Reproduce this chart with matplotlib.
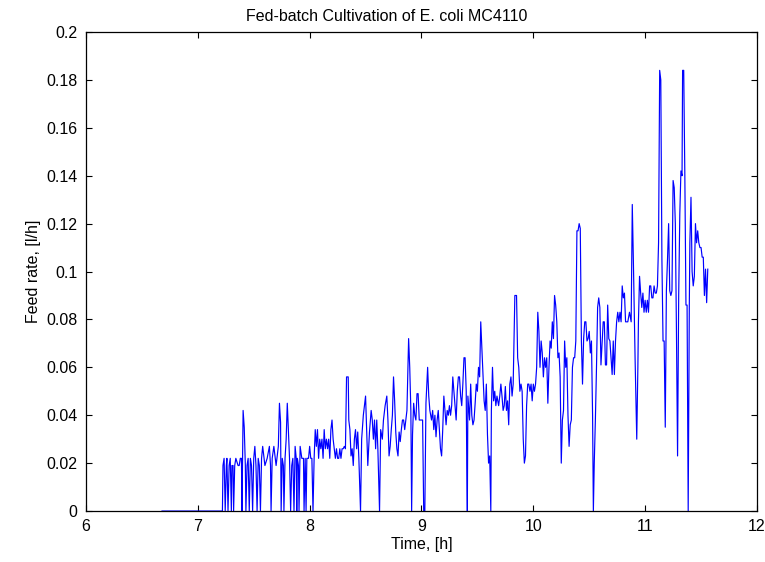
import numpy as np
import matplotlib
matplotlib.use("Agg")
import matplotlib.pyplot as plt

plt.rcParams['font.family'] = ['Liberation Sans', 'DejaVu Sans']

# time [h] and feed rate [l/h]
time_h = [
    6.68, 7.22,
    7.225, 7.235, 7.245, 7.255, 7.26, 7.27, 7.28, 7.29, 7.30, 7.305,
    7.315, 7.32, 7.33, 7.34, 7.36, 7.37, 7.38, 7.39, 7.395, 7.405,
    7.415, 7.425, 7.43, 7.44, 7.45, 7.46, 7.47, 7.48, 7.49, 7.50,
    7.51, 7.52, 7.53, 7.54, 7.55, 7.56, 7.57, 7.58, 7.60, 7.62,
    7.64, 7.65, 7.655, 7.665, 7.68, 7.70, 7.72, 7.73, 7.74, 7.745,
    7.755, 7.765, 7.77, 7.78, 7.79, 7.80, 7.81, 7.82, 7.83, 7.84,
    7.85, 7.86, 7.87, 7.88, 7.885, 7.89, 7.90, 7.905, 7.915, 7.93,
    7.945, 7.95, 7.96, 7.968, 7.975, 7.99, 8.00, 8.01, 8.02, 8.03,
    8.04, 8.05,
    8.06, 8.07, 8.08, 8.09, 8.10, 8.11, 8.12, 8.13, 8.14, 8.15,
    8.16, 8.17, 8.18, 8.19, 8.20, 8.21, 8.22, 8.23, 8.24, 8.25,
    8.26, 8.27, 8.28, 8.29, 8.30, 8.31, 8.32, 8.33, 8.345, 8.35,
    8.36, 8.37, 8.38, 8.39, 8.40, 8.41, 8.42, 8.43, 8.44, 8.455,
    8.465, 8.48, 8.50, 8.51, 8.52, 8.535, 8.55, 8.56, 8.57, 8.58,
    8.59, 8.60, 8.61, 8.625, 8.635, 8.65, 8.66, 8.675, 8.69,
    8.70, 8.71, 8.72, 8.73, 8.74, 8.75, 8.76, 8.77, 8.78, 8.79,
    8.80, 8.81, 8.82, 8.83, 8.84, 8.85, 8.86, 8.87, 8.885, 8.895,
    8.905, 8.912, 8.92, 8.93, 8.94, 8.95, 8.96, 8.97, 8.98, 8.99,
    9.01, 9.02, 9.03, 9.04, 9.055, 9.065, 9.075, 9.09, 9.10, 9.11,
    9.12, 9.13, 9.14, 9.15, 9.16, 9.17, 9.18, 9.19, 9.20, 9.21,
    9.22, 9.23, 9.24, 9.25, 9.26, 9.27, 9.28, 9.29, 9.30, 9.31,
    9.32, 9.33, 9.34, 9.35, 9.36, 9.37, 9.38, 9.39, 9.40, 9.405,
    9.41, 9.415, 9.43,
    9.44, 9.45, 9.46, 9.47, 9.48, 9.49, 9.50, 9.51, 9.52, 9.53,
    9.54, 9.55, 9.56, 9.57, 9.58, 9.59, 9.60, 9.61, 9.62, 9.625,
    9.635, 9.645, 9.655, 9.665, 9.675, 9.69, 9.70, 9.71, 9.72, 9.73,
    9.74, 9.75, 9.76, 9.77, 9.78, 9.79, 9.80, 9.81, 9.82, 9.835,
    9.85, 9.86, 9.87, 9.88, 9.89, 9.90, 9.91, 9.92, 9.93, 9.94,
    9.95, 9.96, 9.97, 9.98, 9.99, 10.00, 10.01, 10.02, 10.03, 10.04,
    10.05, 10.06, 10.07, 10.08, 10.09, 10.10, 10.11, 10.12, 10.13, 10.14,
    10.15, 10.16, 10.17, 10.18, 10.19, 10.20,
    10.21, 10.22, 10.23, 10.24, 10.25, 10.26, 10.27, 10.28, 10.29, 10.30,
    10.31, 10.32, 10.33, 10.34, 10.35, 10.36, 10.37, 10.38, 10.39, 10.40,
    10.41, 10.42, 10.43, 10.44, 10.45, 10.46, 10.47, 10.48, 10.49, 10.50,
    10.51, 10.52, 10.53, 10.537, 10.545, 10.555, 10.565, 10.575, 10.585, 10.595,
    10.605, 10.615, 10.625, 10.635, 10.645, 10.655, 10.665, 10.675, 10.685, 10.695,
    10.705, 10.715, 10.725, 10.735, 10.745, 10.755, 10.765, 10.775, 10.785, 10.795,
    10.805, 10.815, 10.825, 10.835, 10.845, 10.86, 10.875, 10.885, 10.895, 10.91,
    10.925, 10.935,
    10.94, 10.95, 10.96, 10.97, 10.98, 10.99, 11.00, 11.01, 11.02, 11.03,
    11.04, 11.05, 11.06, 11.07, 11.08, 11.09, 11.10, 11.11, 11.12, 11.13,
    11.14, 11.15, 11.16, 11.17, 11.18, 11.19, 11.20, 11.21, 11.22, 11.23,
    11.24, 11.25, 11.26, 11.27, 11.28, 11.29, 11.30, 11.31, 11.32, 11.33,
    11.335, 11.345, 11.355, 11.365, 11.375, 11.385, 11.395, 11.40, 11.41, 11.42,
    11.43, 11.44, 11.45, 11.46, 11.47, 11.48, 11.49, 11.50, 11.51, 11.52,
    11.53, 11.54, 11.55, 11.56,
]

feed_rate = [
    0, 0,
    0.019, 0.022, 0, 0.019, 0.022, 0, 0.019, 0.022, 0, 0.019,
    0.019, 0, 0.019, 0.022, 0.019, 0.019, 0.022, 0.022, 0, 0.042,
    0.035, 0.019, 0, 0.019, 0.022, 0, 0.022, 0.019, 0, 0.022,
    0.027, 0.019, 0, 0.022, 0.019, 0, 0.022, 0.027, 0.019, 0.022,
    0.027, 0.019, 0, 0.022, 0.027, 0.019, 0.027, 0.045, 0.037, 0,
    0.022, 0.019, 0, 0.022, 0.030, 0.045, 0.034, 0.022, 0, 0.019,
    0.022, 0, 0.027, 0.022, 0, 0.022, 0.019, 0, 0.027, 0.022,
    0.022, 0, 0.022, 0, 0.022, 0.022, 0.027, 0.022, 0.022, 0,
    0.022, 0.034,
    0.027, 0.034, 0.022, 0.030, 0.026, 0.030, 0.022, 0.034, 0.026, 0.030,
    0.026, 0.030, 0.022, 0.034, 0.038, 0.030, 0.026, 0.022, 0.026, 0.022,
    0.022, 0.026, 0.022, 0.026, 0.026, 0.027, 0.026, 0.056, 0.056, 0.038,
    0.034, 0.023, 0.026, 0.019, 0.030, 0.034, 0.026, 0.033, 0.022, 0,
    0.030, 0.040, 0.048, 0.034, 0.019, 0.033, 0.042, 0.038, 0.030, 0.038,
    0.026, 0.038, 0.026, 0, 0.034, 0.030, 0.038, 0.044, 0.048,
    0.038, 0.023, 0.027, 0.034, 0.040, 0.056, 0.046, 0.033, 0.026, 0.023,
    0.033, 0.029, 0.034, 0.038, 0.038, 0.034, 0.038, 0.042, 0.072, 0.060,
    0.042, 0, 0.032, 0.045, 0.040, 0.038, 0.049, 0.049, 0.038, 0.038,
    0.038, 0, 0, 0.045, 0.060, 0.048, 0.042, 0.038, 0.042, 0.034,
    0.040, 0.031, 0.038, 0.042, 0.034, 0.026, 0.023, 0.034, 0.048, 0.042,
    0.036, 0.042, 0.040, 0.044, 0.040, 0.044, 0.056, 0.050, 0.044, 0.038,
    0.050, 0.056, 0.056, 0.048, 0.044, 0.053, 0.064, 0.064, 0.050, 0.020,
    0, 0.048, 0.038,
    0.053, 0.040, 0.036, 0.038, 0.045, 0.053, 0.050, 0.060, 0.056, 0.079,
    0.068, 0.058, 0.046, 0.042, 0.053, 0.032, 0.020, 0.023, 0, 0.042,
    0.060, 0.046, 0.050, 0.044, 0.048, 0.044, 0.048, 0.053, 0.048, 0.042,
    0.044, 0.052, 0.042, 0.046, 0.036, 0.053, 0.056, 0.048, 0.053, 0.090,
    0.090, 0.064, 0.060, 0.050, 0.053, 0.050, 0.030, 0.020, 0.023, 0.044,
    0.053, 0.053, 0.050, 0.053, 0.046, 0.053, 0.050, 0.053, 0.060, 0.083,
    0.075, 0.060, 0.071, 0.066, 0.056, 0.064, 0.060, 0.064, 0.045, 0.060,
    0.071, 0.068, 0.079, 0.072, 0.090, 0.086,
    0.079, 0.064, 0.066, 0.056, 0.020, 0.038, 0.042, 0.071, 0.060, 0.064,
    0.040, 0.027, 0.036, 0.038, 0.060, 0.064, 0.064, 0.071, 0.117, 0.117,
    0.120, 0.118, 0.071, 0.053, 0.072, 0.079, 0.079, 0.071, 0.072, 0.075,
    0.066, 0.071, 0.040, 0, 0.020, 0.038, 0.060, 0.085, 0.089, 0.085,
    0.061, 0.070, 0.079, 0.079, 0.061, 0.061, 0.086, 0.072, 0.071, 0.064,
    0.057, 0.071, 0.057, 0.071, 0.079, 0.083, 0.079, 0.083, 0.079, 0.094,
    0.089, 0.091, 0.079, 0.079, 0.079, 0.083, 0.079, 0.128, 0.104, 0.064,
    0.030, 0.060,
    0.079, 0.098, 0.091, 0.085, 0.091, 0.083, 0.088, 0.083, 0.088, 0.083,
    0.094, 0.094, 0.089, 0.089, 0.094, 0.091, 0.091, 0.094, 0.112, 0.184,
    0.180, 0.105, 0.071, 0.071, 0.035, 0.092, 0.105, 0.120, 0.092, 0.090,
    0.092, 0.138, 0.135, 0.120, 0.075, 0.023, 0.090, 0.124, 0.142, 0.140,
    0.184, 0.184, 0.140, 0.086, 0.086, 0, 0.086, 0.112, 0.131, 0.100,
    0.094, 0.098, 0.120, 0.112, 0.117, 0.112, 0.110, 0.110, 0.106, 0.106,
    0.090, 0.101, 0.087, 0.101,
]

x_ticks = [6, 7, 8, 9, 10, 11, 12]
y_ticks = [0, 0.02, 0.04, 0.06, 0.08, 0.1, 0.12, 0.14, 0.16, 0.18, 0.2]
y_tick_labels = ['0', '0.02', '0.04', '0.06', '0.08', '0.1', '0.12', '0.14', '0.16', '0.18', '0.2']

fig = plt.figure(figsize=(7.65, 5.62), dpi=100)
ax = fig.add_axes([0.1124, 0.0907, 0.8771, 0.8523])

ax.plot(time_h, feed_rate, color='#0000ff', linewidth=0.85)

ax.set_xlim(6, 12)
ax.set_ylim(0, 0.2)
ax.set_xticks(x_ticks)
ax.set_xticklabels([str(t) for t in x_ticks])
ax.set_yticks(y_ticks)
ax.set_yticklabels(y_tick_labels)
ax.tick_params(direction='in', top=True, right=True, length=4, labelsize=11.5, pad=6)
for sp in ax.spines.values():
    sp.set_linewidth(0.9)

ax.set_xlabel('Time, [h]', fontsize=11.5, labelpad=2)
ax.set_ylabel('Feed rate, [l/h]', fontsize=11.5, labelpad=4)
ax.set_title('Fed-batch Cultivation of E. coli MC4110', fontsize=11.5, x=0.448, pad=8)

fig.savefig('out.png', dpi=100)
